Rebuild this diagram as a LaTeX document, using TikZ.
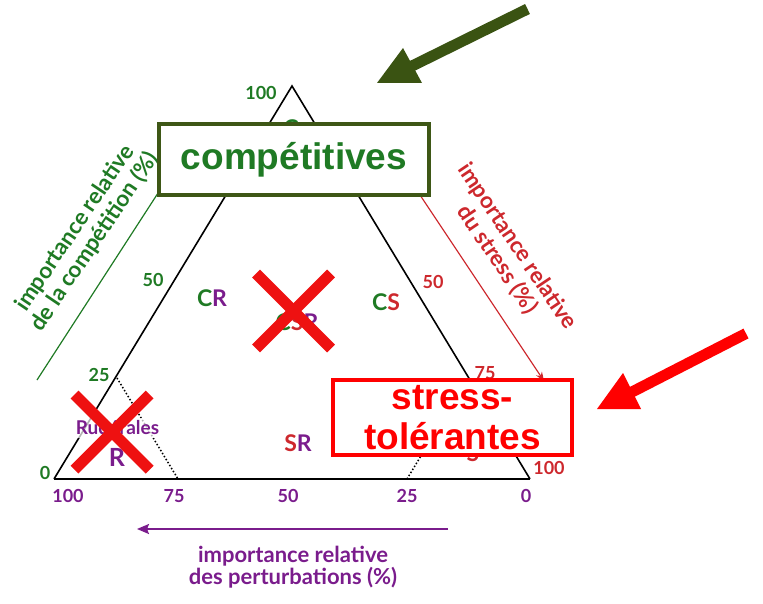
\documentclass[tikz,border=0pt]{standalone}
\usepackage{fontspec}
\setmainfont{Lato}
\newfontfamily\arialfont{Liberation Sans}
\usetikzlibrary{arrows.meta}
\definecolor{cgreen}{RGB}{31,122,36}
\definecolor{cpurple}{RGB}{122,28,140}
\definecolor{cred}{RGB}{205,40,45}
\definecolor{boxolive}{RGB}{62,87,22}
\definecolor{arrowgreen}{RGB}{58,83,18}
\definecolor{xred}{RGB}{238,17,17}
\definecolor{purered}{RGB}{255,0,0}
\begin{document}
\begin{tikzpicture}[x=1pt,y=-1pt,
  ticklbl/.style={font=\bfseries\fontsize{18}{20}\selectfont, inner sep=0pt},
  regionlbl/.style={font=\bfseries\fontsize{23}{25}\selectfont, inner sep=0pt},
  axislbl/.style={font=\bfseries\fontsize{22.5}{24}\selectfont, align=center, inner sep=0pt},
  bigbox/.style={draw, fill=white, align=center, inner sep=0pt,
     font=\arialfont\bfseries\fontsize{37}{40}\selectfont},
  xbar/.style={draw=xred, line width=11pt},
  edge/.style={draw=black, line width=1.6pt},
  dots/.style={draw=black, line width=1.5pt, dash pattern=on 1.5pt off 2pt},
]
\useasboundingbox (0,0) rectangle (763,604);

% triangle
\coordinate (L) at (54,479);
\coordinate (Rc) at (530,479);
\coordinate (T) at (292,86);
\draw[edge] (L) -- (T) -- (Rc);
\draw[draw=black, line width=2pt] (L) -- (Rc);

% dotted lines
\coordinate (d1a) at (117,378);
\coordinate (d1b) at (178,479);
\coordinate (d2a) at (407,479);
\coordinate (d2b) at (468,378);
\draw[dots] (d1a) -- (d1b);
\draw[dots] (d2a) -- (d2b);

% axis lines
\coordinate (ga) at (37,380);
\coordinate (gb) at (160,190);
\draw[cgreen, line width=1.2pt] (ga) -- (gb);
\coordinate (ra) at (418,192);
\coordinate (rb) at (544,381);
\draw[cred, line width=1.2pt, -{Stealth[length=9pt,width=7pt]}] (ra) -- (rb);
\coordinate (pa) at (448,529);
\coordinate (pb) at (137,529);
\draw[cpurple, line width=2pt, -{Stealth[length=12pt,width=10pt,inset=2pt]}] (pa) -- (pb);

% axis labels
\node[axislbl, text=cgreen, rotate=56] (lblC) at (85,235) {importance relative\\de la compétition (\%)};
\node[axislbl, text=cred, rotate=-56] (lblS) at (507,253) {importance relative\\du stress (\%)};
\node[axislbl, text=cpurple, font=\bfseries\fontsize{22}{22}\selectfont] (lblR) at (293,567) {importance relative\\des perturbations (\%)};

% ticks
\node[ticklbl, text=cgreen] (tc100) at (261,93) {100};
\node[ticklbl, text=cgreen] (tc50) at (153,280) {50};
\node[ticklbl, text=cgreen] (tc25) at (99,375) {25};
\node[ticklbl, text=cgreen] (tc0) at (45,473) {0};
\node[ticklbl, text=cred] (ts50) at (433,282) {50};
\node[ticklbl, text=cred] (ts75) at (485,373) {75};
\node[ticklbl, text=cred] (ts100) at (549,468) {100};
\node[ticklbl, text=cpurple] (tr100) at (68,496) {100};
\node[ticklbl, text=cpurple] (tr75) at (174,496) {75};
\node[ticklbl, text=cpurple] (tr50) at (288,496) {50};
\node[ticklbl, text=cpurple] (tr25) at (407,496) {25};
\node[ticklbl, text=cpurple] (tr0) at (526,496) {0};

% region labels
\node[regionlbl, text=cgreen] (rC) at (291,128) {C};
\node[regionlbl, text=cred] (rS) at (473,453) {S};
\node[regionlbl] (rCR) at (212,298) {\textcolor{cgreen}{C}\textcolor{cpurple}{R}};
\node[regionlbl] (rCS) at (386,302) {\textcolor{cgreen}{C}\textcolor{cred}{S}};
\node[regionlbl] (rCSR) at (297,322) {\textcolor{cgreen}{C}\textcolor{cred}{S}\textcolor{cpurple}{R}};
\node[regionlbl] (rSR) at (298,443) {\textcolor{cred}{S}\textcolor{cpurple}{R}};
\node[font=\bfseries\fontsize{19}{21}\selectfont, text=cpurple, fill=white, fill opacity=0.7, text opacity=1, inner sep=3pt] (rud) at (117.5,428) {Rudérales};
\node[regionlbl, text=cpurple, font=\bfseries\fontsize{25}{27}\selectfont] (rR) at (117,457) {R};

% crosses
\coordinate (x1a) at (256,273.5);
\coordinate (x1b) at (331,348.5);
\coordinate (x1c) at (331,273.5);
\coordinate (x1d) at (256,348.5);
\draw[xbar] (x1a) -- (x1b);
\draw[xbar] (x1c) -- (x1d);
\coordinate (x2a) at (74.5,394.5);
\coordinate (x2b) at (149.7,469.7);
\coordinate (x2c) at (149.7,394.5);
\coordinate (x2d) at (74.5,469.7);
\draw[xbar] (x2a) -- (x2b);
\draw[xbar] (x2c) -- (x2d);

% boxes
\node[bigbox, draw=boxolive, line width=4pt, text=cgreen, minimum width=270pt, minimum height=71pt] (comp) at (294,159.5) {compétitives};
\node[bigbox, draw=purered, line width=3.5pt, text=purered, minimum width=239pt, minimum height=75pt] (stol) at (452.5,417.5) {stress-\\tolérantes};

% big arrows
\coordinate (ga1) at (527.5,9);
\coordinate (ga2) at (410,67);
\draw[arrowgreen, line width=11pt] (ga1) -- (ga2);
\fill[arrowgreen] (377,83) -- (403,48) -- (422,83) -- cycle;
\coordinate (ra1) at (746,333.5);
\coordinate (ra2) at (630,393);
\draw[purered, line width=11pt] (ra1) -- (ra2);
\fill[purered] (597,409) -- (623,373) -- (641,409) -- cycle;
\end{tikzpicture}
\end{document}
